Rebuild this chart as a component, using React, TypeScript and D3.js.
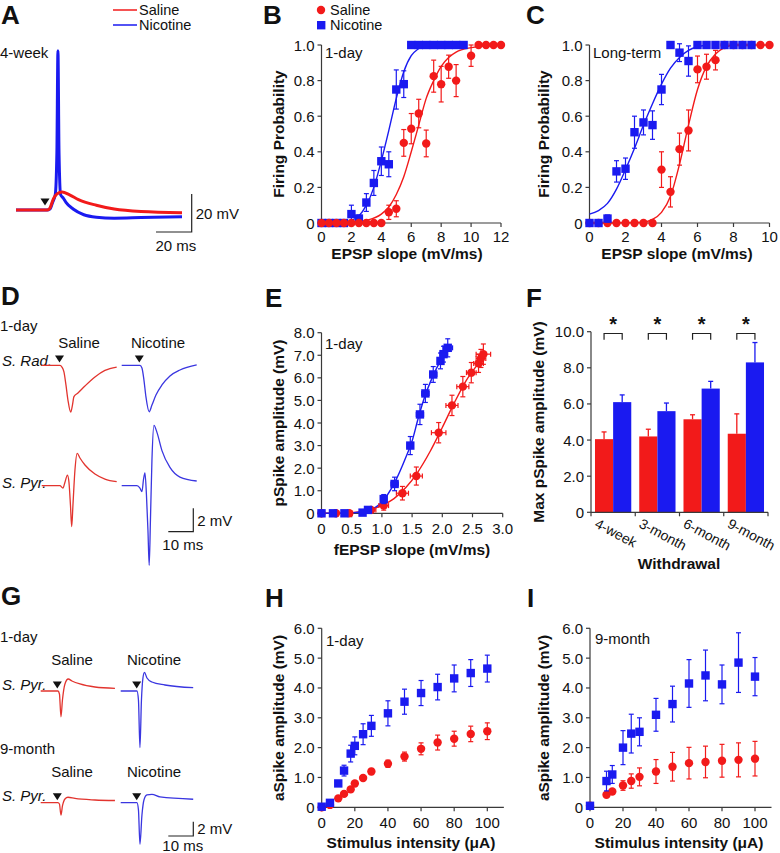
import * as d3 from "d3";

const FONT = "'Liberation Sans', Arial, Helvetica, sans-serif";
const RED = "#f21a1a";
const BLUE = "#1a1af0";
const TRACE_RED = "#e2342e";
const TRACE_BLUE = "#3a36e0";
const AXIS = "#3a3a3a";

type Pt = [number, number];
type Lin = d3.ScaleLinear<number, number>;

// ---- A: 4-week whole-cell traces [ms, mV]
const aSalineTrace: Pt[] = [
  [0, -65], [17.5, -65], [19, -64], [21, -59], [23, -56.5], [25.8, -55.5], [30, -57],
  [35, -59.5], [45, -62.5], [55, -64.5], [70, -65.8], [93, -66.4],
];
const aNicotineTrace: Pt[] = [
  [0, -65], [17.5, -65], [19, -64.5], [20.5, -61], [22, -57], [22.9, -35], [23.5, 18.8],
  [24.1, -35], [25, -57], [26.5, -58.7], [28, -61], [32, -64.5], [38, -67.5], [45, -68.8],
  [55, -69.3], [70, -69], [93, -68.5],
];

// ---- B: firing probability, 1-day  [slope, prob, sem]
const bSaline: number[][] = [
  [0, 0, 0], [0.5, 0, 0], [1, 0, 0], [1.5, 0, 0], [2, 0, 0], [2.5, 0, 0], [3, 0, 0], [3.5, 0, 0], [4, 0, 0],
  [4.5, 0.06, 0.04], [5, 0.08, 0.045], [5.5, 0.45, 0.075], [6, 0.53, 0.085], [6.5, 0.615, 0.08],
  [7, 0.447, 0.075], [7.5, 0.825, 0.09], [8, 0.78, 0.1], [8.5, 0.878, 0.065], [9, 0.8, 0.09],
  [10, 0.94, 0.06], [10.5, 1, 0], [11, 1, 0], [11.5, 1, 0], [12, 1, 0],
];
const bNicotine: number[][] = [
  [0, 0, 0], [0.5, 0, 0], [1, 0, 0], [1.5, 0, 0], [2, 0.05, 0.05], [2.5, 0.025, 0.02],
  [3, 0.115, 0.05], [3.5, 0.225, 0.07], [4, 0.347, 0.08], [4.5, 0.33, 0.07], [5, 0.75, 0.11],
  [5.5, 0.78, 0.075], [6, 1, 0], [6.5, 1, 0], [7, 1, 0], [7.5, 1, 0], [8, 1, 0], [8.5, 1, 0],
  [9, 1, 0], [9.5, 1, 0],
];
const bSalineFit: Pt[] = [
  [0, 0], [2, 0.003], [3, 0.015], [4, 0.05], [4.5, 0.09], [5, 0.16], [5.5, 0.26], [6, 0.4],
  [6.5, 0.55], [7, 0.7], [7.5, 0.8], [8, 0.88], [8.5, 0.93], [9, 0.96], [10, 0.985], [11, 0.995], [12, 1],
];
const bNicotineFit: Pt[] = [
  [0, 0], [1.5, 0.005], [2, 0.015], [2.5, 0.04], [3, 0.1], [3.5, 0.2], [4, 0.35], [4.5, 0.52],
  [5, 0.7], [5.5, 0.85], [6, 0.94], [6.5, 0.98], [6.9, 1],
];

// ---- C: firing probability, long-term
const cSaline: number[][] = [
  [0, 0, 0], [0.5, 0, 0], [1, 0, 0], [1.5, 0, 0], [2, 0, 0], [2.5, 0, 0], [3, 0, 0], [3.5, 0, 0],
  [4, 0.3, 0.1], [4.5, 0.175, 0.085], [5, 0.415, 0.09], [5.5, 0.52, 0.115], [6, 0.863, 0.075],
  [6.5, 0.878, 0.07], [7, 0.915, 0.055], [7.5, 1, 0], [8, 1, 0], [8.5, 1, 0], [9, 1, 0], [9.5, 1, 0], [10, 1, 0],
];
const cNicotine: number[][] = [
  [0, 0, 0], [0.5, 0, 0], [1, 0.025, 0.02], [1.5, 0.29, 0.06], [2, 0.305, 0.06], [2.5, 0.51, 0.09],
  [3, 0.565, 0.07], [3.5, 0.55, 0.08], [4, 0.75, 0.085], [4.5, 1, 0], [5, 0.957, 0.05],
  [5.5, 0.91, 0.085], [6, 1, 0], [6.5, 1, 0], [7, 1, 0], [7.5, 1, 0], [8, 1, 0], [8.5, 1, 0], [9, 1, 0],
];
const cSalineFit: Pt[] = [
  [0, 0], [3, 0.005], [3.5, 0.02], [4, 0.06], [4.5, 0.15], [5, 0.33], [5.5, 0.55], [6, 0.75],
  [6.5, 0.88], [7, 0.95], [7.5, 0.985], [8, 1], [10, 1],
];
const cNicotineFit: Pt[] = [
  [0, 0.05], [0.5, 0.07], [1, 0.11], [1.5, 0.19], [2, 0.3], [2.5, 0.42], [3, 0.55], [3.5, 0.67],
  [4, 0.78], [4.5, 0.87], [5, 0.93], [5.5, 0.97], [6, 0.99], [6.5, 1],
];

// ---- D: 1-day field traces [ms, mV]
const dSalineRad: Pt[] = [
  [0, 0], [7.3, 0], [8.1, -0.15], [8.9, -0.57], [9.7, -1.68], [10.5, -2.97], [11.6, -4.0],
  [12.3, -3.4], [12.9, -2.68], [14.5, -2.37], [17.3, -1.77], [21.3, -1.0], [25.3, -0.44], [30, -0.15],
];
const dNicotineRad: Pt[] = [
  [0, 0], [7.3, 0], [8.1, -0.23], [8.9, -1.26], [9.7, -2.7], [11, -3.97], [12.1, -3.4],
  [13.7, -2.54], [16.1, -1.68], [19.3, -0.91], [23.3, -0.4], [30, 0.03],
];
const dSalinePyr: Pt[] = [
  [0, 0], [7.3, 0], [8.5, -0.2], [9.3, 0.3], [10.3, 0.9], [10.9, 0.3], [11.5, -1.65], [12, -3.5],
  [12.5, -1.65], [13.3, 1.34], [14.2, 2.77], [15.3, 2.37], [17.3, 1.77], [21.3, 1.0], [25.3, 0.57], [30, 0.34],
];
const dNicotinePyr: Pt[] = [
  [0, 0], [6.1, 0], [7.3, -0.2], [8.1, -0.5], [8.7, 0.49], [9.3, 1.1], [9.9, -0.8], [10.5, -3.8],
  [11, -6.8], [11.5, -2.9], [12.1, 2.2], [12.9, 5.16], [14.1, 4.56], [16.1, 3.0], [19.3, 1.56],
  [23.3, 0.74], [30, 0.4],
];

// ---- E: input-output, 1-day  [fEPSP, pSpike, xSem, ySem]
const eSaline: number[][] = [
  [0, 0, 0.02, 0.03], [0.24, 0, 0.04, 0.03], [0.46, 0, 0.05, 0.03], [0.82, 0.15, 0.08, 0.1],
  [1.03, 0.34, 0.08, 0.2], [1.34, 0.89, 0.1, 0.3], [1.57, 1.65, 0.1, 0.4], [1.94, 3.57, 0.12, 0.45],
  [2.16, 4.78, 0.1, 0.45], [2.34, 5.61, 0.1, 0.45], [2.48, 6.23, 0.08, 0.45], [2.6, 6.64, 0.08, 0.4],
  [2.64, 6.86, 0.08, 0.4], [2.68, 7.05, 0.12, 0.45],
];
const eNicotine: number[][] = [
  [0, 0, 0.02, 0.03], [0.19, 0, 0.03, 0.03], [0.38, 0, 0.03, 0.03], [0.68, 0.03, 0.04, 0.05],
  [0.77, 0.15, 0.04, 0.06], [1.03, 0.63, 0.05, 0.2], [1.21, 1.3, 0.06, 0.3], [1.47, 3.0, 0.05, 0.4],
  [1.63, 4.38, 0.06, 0.45], [1.72, 5.31, 0.06, 0.4], [1.85, 6.15, 0.06, 0.35], [1.97, 6.75, 0.05, 0.35],
  [2.02, 7.05, 0.06, 0.35], [2.09, 7.33, 0.08, 0.4],
];
const eSalineFit: Pt[] = [
  [0, 0], [0.5, 0.03], [0.8, 0.15], [1.0, 0.35], [1.2, 0.65], [1.4, 1.15], [1.6, 1.85], [1.8, 2.75],
  [2.0, 3.8], [2.2, 4.9], [2.4, 5.9], [2.6, 6.65], [2.7, 7.0],
];
const eNicotineFit: Pt[] = [
  [0, 0], [0.5, 0.02], [0.8, 0.15], [1.0, 0.5], [1.2, 1.3], [1.4, 2.5], [1.5, 3.2], [1.6, 4.2],
  [1.7, 5.1], [1.8, 5.8], [1.9, 6.4], [2.0, 6.9], [2.1, 7.3],
];

// ---- F: max pSpike by withdrawal period
const withdrawal = ["4-week", "3-month", "6-month", "9-month"];
const fSaline = [4.05, 4.2, 5.15, 4.35];
const fSalineErr = [0.4, 0.4, 0.25, 1.1];
const fNicotine = [6.1, 5.6, 6.85, 8.3];
const fNicotineErr = [0.4, 0.45, 0.4, 1.1];

// ---- G: antidromic traces [ms, mV]
const gSalineDay: Pt[] = [
  [0, 0], [6.9, 0], [7.5, -0.42], [8.1, -3.6], [8.7, -1.26], [9.7, 0.98], [11, 1.68], [12.5, 1.4],
  [15.7, 0.98], [21.7, 0.56], [29.7, 0.38],
];
const gNicotineDay: Pt[] = [
  [0, 0], [6.5, 0], [7.1, -1.26], [7.7, -7.9], [8.3, -1.26], [8.9, 1.82], [9.5, 2.6], [10.5, 1.82],
  [12.5, 1.26], [17.7, 0.84], [29, 0.46],
];
const gSalineMonth: Pt[] = [
  [0, 0], [6.9, 0], [7.5, -0.18], [8.1, -1.72], [8.7, -0.46], [9.7, 0.52], [10.9, 0.76],
  [13.7, 0.59], [21.7, 0.38], [29.7, 0.31],
];
const gNicotineMonth: Pt[] = [
  [0, 0], [6.5, 0], [7.1, -1.0], [7.7, -5.8], [8.5, -1.72], [9.3, 0.38], [10.5, 1.08], [12.5, 1.17],
  [15.7, 0.8], [29, 0.48],
];

// ---- H / I: aSpike vs stimulus intensity
const hIntensity = [0, 5, 10, 13.5, 17.5, 20, 25, 30, 40, 50, 60, 70, 80, 90, 100];
const hNicotine = [0.02, 0.15, 0.8, 1.23, 1.8, 2.06, 2.45, 2.73, 3.15, 3.54, 3.83, 4.03, 4.32, 4.5, 4.65];
const hNicotineErr = [0, 0.05, 0.07, 0.18, 0.28, 0.3, 0.35, 0.35, 0.42, 0.42, 0.42, 0.43, 0.45, 0.45, 0.45];
const hSaline = [0, 0.08, 0.3, 0.45, 0.6, 0.8, 0.98, 1.2, 1.46, 1.7, 1.96, 2.17, 2.3, 2.46, 2.55];
const hSalineErr = [0, 0, 0, 0, 0, 0.05, 0.08, 0.1, 0.12, 0.15, 0.2, 0.25, 0.25, 0.26, 0.28];

const iIntensity = [0, 10, 13.5, 20, 25, 30, 40, 50, 60, 70, 80, 90, 100];
const iNicotine = [0.05, 0.88, 1.1, 2.0, 2.47, 2.53, 3.1, 3.46, 4.15, 4.42, 4.12, 4.85, 4.38];
const iNicotineErr = [0, 0.33, 0.3, 0.57, 0.65, 0.47, 0.55, 0.6, 0.8, 0.85, 0.65, 1.0, 0.64];
const iSaline = [0.05, 0.42, 0.53, 0.73, 0.88, 1.02, 1.2, 1.36, 1.48, 1.52, 1.56, 1.59, 1.63];
const iSalineErr = [0, 0.04, 0.05, 0.16, 0.24, 0.3, 0.4, 0.48, 0.53, 0.53, 0.55, 0.57, 0.58];

// tick labels
const probTicks = [0, 0.2, 0.4, 0.6, 0.8, 1.0];
const bXTicks = [0, 2, 4, 6, 8, 10, 12];
const cXTicks = [0, 2, 4, 6, 8, 10];
const eXTicks = [0, 0.5, 1, 1.5, 2, 2.5, 3];
const eYTicks = [0, 1, 2, 3, 4, 5, 6, 7, 8];
const fYTicks = [0, 2, 4, 6, 8, 10];
const hYTicks = [0, 1, 2, 3, 4, 5, 6];
const hXTicks = [0, 20, 40, 60, 80, 100];

const oneDec = (v: number) => (v === 0 ? "0" : v.toFixed(1));
const plain = (v: number) => String(v);

function LeftAxis({ y, x, ticks, fmt }: { y: Lin; x: number; ticks: number[]; fmt: (v: number) => string }) {
  const [d0, d1] = y.domain();
  return (
    <g>
      <line x1={x} x2={x} y1={y(d0)} y2={y(d1)} stroke={AXIS} strokeWidth={1.2} />
      {ticks.map((t) => (
        <g key={t}>
          <line x1={x - 4} x2={x} y1={y(t)} y2={y(t)} stroke={AXIS} strokeWidth={1.2} />
          <text x={x - 7} y={y(t)} textAnchor="end" dominantBaseline="central" fontSize={15}>
            {fmt(t)}
          </text>
        </g>
      ))}
    </g>
  );
}

function BottomAxis({ x, y, ticks, fmt, end, gap = 14 }: { x: Lin; y: number; ticks: number[]; fmt: (v: number) => string; end: number; gap?: number }) {
  return (
    <g>
      <line x1={x(0)} x2={x(end)} y1={y} y2={y} stroke={AXIS} strokeWidth={1.2} />
      {ticks.map((t) => (
        <g key={t}>
          <line x1={x(t)} x2={x(t)} y1={y} y2={y + 4} stroke={AXIS} strokeWidth={1.2} />
          <text x={x(t)} y={y + gap} textAnchor="middle" dominantBaseline="central" fontSize={15}>
            {fmt(t)}
          </text>
        </g>
      ))}
    </g>
  );
}

function Marker({ cx, cy, kind, color }: { cx: number; cy: number; kind: "circle" | "square"; color: string }) {
  return kind === "circle" ? (
    <circle cx={cx} cy={cy} r={4.2} fill={color} />
  ) : (
    <rect x={cx - 4.2} y={cy - 4.2} width={8.4} height={8.4} fill={color} />
  );
}

function Points({ data, x, y, kind, color }: { data: number[][]; x: Lin; y: Lin; kind: "circle" | "square"; color: string }) {
  return (
    <g>
      {data.map((d, i) => {
        const [vx, vy, ey] = d;
        const ex = d.length > 3 ? d[2] : 0;
        const yErr = d.length > 3 ? d[3] : ey;
        const cx = x(vx);
        const cy = y(vy);
        return (
          <g key={i}>
            {yErr > 0 && (
              <g stroke={color} strokeWidth={1.2}>
                <line x1={cx} x2={cx} y1={y(vy - yErr)} y2={y(vy + yErr)} />
                <line x1={cx - 2.5} x2={cx + 2.5} y1={y(vy + yErr)} y2={y(vy + yErr)} />
                <line x1={cx - 2.5} x2={cx + 2.5} y1={y(vy - yErr)} y2={y(vy - yErr)} />
              </g>
            )}
            {ex > 0 && (
              <g stroke={color} strokeWidth={1.2}>
                <line x1={x(vx - ex)} x2={x(vx + ex)} y1={cy} y2={cy} />
                <line x1={x(vx - ex)} x2={x(vx - ex)} y1={cy - 2.5} y2={cy + 2.5} />
                <line x1={x(vx + ex)} x2={x(vx + ex)} y1={cy - 2.5} y2={cy + 2.5} />
              </g>
            )}
            <Marker cx={cx} cy={cy} kind={kind} color={color} />
          </g>
        );
      })}
    </g>
  );
}

function FitLine({ data, x, y, color }: { data: Pt[]; x: Lin; y: Lin; color: string }) {
  const line = d3
    .line<Pt>()
    .x((d) => x(d[0]))
    .y((d) => y(d[1]))
    .curve(d3.curveMonotoneX);
  return <path d={line(data) ?? ""} fill="none" stroke={color} strokeWidth={1.4} />;
}

function Trace({ data, x0, y0, msPx, mvPx, color, width = 1.3 }: { data: Pt[]; x0: number; y0: number; msPx: number; mvPx: number; color: string; width?: number }) {
  const x = d3.scaleLinear().domain([0, 10]).range([x0, x0 + 10 * msPx]);
  const y = d3.scaleLinear().domain([0, 1]).range([y0, y0 - mvPx]);
  const line = d3
    .line<Pt>()
    .x((d) => x(d[0]))
    .y((d) => y(d[1]))
    .curve(d3.curveMonotoneX);
  return <path d={line(data) ?? ""} fill="none" stroke={color} strokeWidth={width} strokeLinejoin="round" />;
}

function Arrow({ x, y }: { x: number; y: number }) {
  return <path d={`M${x - 4.5},${y - 3.5} L${x + 4.5},${y - 3.5} L${x},${y + 3.5} Z`} fill="#111" />;
}

function ScaleBar({ x, y, wPx, hPx, xLabel, yLabel, gap = 13 }: { x: number; y: number; wPx: number; hPx: number; xLabel: string; yLabel: string; gap?: number }) {
  return (
    <g>
      <path d={`M${x - wPx},${y} L${x},${y} L${x},${y - hPx}`} fill="none" stroke="#222" strokeWidth={1.2} />
      <text x={x + 4} y={y - hPx / 2} dominantBaseline="central" fontSize={15}>{yLabel}</text>
      <text x={x - wPx / 2 + 2} y={y + gap} textAnchor="middle" dominantBaseline="central" fontSize={15}>{xLabel}</text>
    </g>
  );
}

function PanelLetter({ x, y, t }: { x: number; y: number; t: string }) {
  return (
    <text x={x} y={y} fontSize={26} fontWeight="bold" dominantBaseline="central">{t}</text>
  );
}

function YTitle({ x, y, t }: { x: number; y: number; t: string }) {
  return (
    <text transform={`translate(${x},${y}) rotate(-90)`} textAnchor="middle" dominantBaseline="central" fontSize={15.5} fontWeight="bold">
      {t}
    </text>
  );
}

function XTitle({ x, y, t }: { x: number; y: number; t: string }) {
  return (
    <text x={x} y={y} textAnchor="middle" dominantBaseline="central" fontSize={15.5} fontWeight="bold">{t}</text>
  );
}

export default function App() {
  // A
  const xA = d3.scaleLinear().domain([0, 93]).range([16, 182]);
  const yA = d3.scaleLinear().domain([-65, -45]).range([210, 172]);
  const aLine = d3.line<Pt>().x((d) => xA(d[0])).y((d) => yA(d[1])).curve(d3.curveMonotoneX);

  // B, C
  const xB = d3.scaleLinear().domain([0, 12]).range([321.5, 501]);
  const yB = d3.scaleLinear().domain([0, 1]).range([223, 45]);
  const xC = d3.scaleLinear().domain([0, 10]).range([589.5, 769.5]);
  const yC = d3.scaleLinear().domain([0, 1]).range([223, 45]);

  // E
  const xE = d3.scaleLinear().domain([0, 3]).range([321.5, 502.7]);
  const yE = d3.scaleLinear().domain([0, 8]).range([513.3, 332.7]);

  // F
  const yF = d3.scaleLinear().domain([0, 10]).range([512.3, 331.7]);
  const xF = d3.scaleBand<string>().domain(withdrawal).range([591, 768]).padding(0);
  const xF1 = d3.scaleBand<string>().domain(["Saline", "Nicotine"]).range([0, xF.bandwidth()]).paddingInner(0).paddingOuter(0.22);

  // H, I
  const xH = d3.scaleLinear().domain([0, 100]).range([321.7, 487.3]);
  const yH = d3.scaleLinear().domain([0, 6]).range([807.3, 628.3]);
  const xI = d3.scaleLinear().domain([0, 100]).range([590, 755]);
  const yI = d3.scaleLinear().domain([0, 6]).range([807.3, 628.3]);

  const hRed = hIntensity.map((v, i) => [v, hSaline[i], hSalineErr[i]]);
  const hBlue = hIntensity.map((v, i) => [v, hNicotine[i], hNicotineErr[i]]);
  const iRed = iIntensity.map((v, i) => [v, iSaline[i], iSalineErr[i]]);
  const iBlue = iIntensity.map((v, i) => [v, iNicotine[i], iNicotineErr[i]]);

  return (
    <svg
      width={780}
      height={853}
      viewBox="0 0 780 853"
      style={{ position: "absolute", left: 0, top: 0, background: "#fff", fontFamily: FONT }}
      fill="#111"
    >
      {/* ---------- A ---------- */}
      <PanelLetter x={1} y={15} t="A" />
      <line x1={113} x2={137} y1={10} y2={10} stroke={RED} strokeWidth={1.5} />
      <text x={139} y={10} dominantBaseline="central" fontSize={14.5}>Saline</text>
      <line x1={113} x2={137} y1={25} y2={25} stroke={BLUE} strokeWidth={1.5} />
      <text x={139} y={25} dominantBaseline="central" fontSize={14.5}>Nicotine</text>
      <text x={0} y={52} dominantBaseline="central" fontSize={15}>4-week</text>
      <path d={aLine(aNicotineTrace) ?? ""} fill="none" stroke={BLUE} strokeWidth={3} />
      <path d={aLine(aSalineTrace) ?? ""} fill="none" stroke={RED} strokeWidth={3} />
      <Arrow x={45} y={202} />
      <ScaleBar x={191.7} y={232} wPx={xA(20) - xA(0)} hPx={yA(-65) - yA(-45)} xLabel="20 ms" yLabel="20 mV" />

      {/* ---------- B ---------- */}
      <PanelLetter x={263} y={15} t="B" />
      <circle cx={321} cy={10} r={4.2} fill={RED} />
      <text x={330} y={10} dominantBaseline="central" fontSize={14.5}>Saline</text>
      <rect x={317} y={21} width={8.4} height={8.4} fill={BLUE} />
      <text x={330} y={25} dominantBaseline="central" fontSize={14.5}>Nicotine</text>
      <LeftAxis y={yB} x={xB(0)} ticks={probTicks} fmt={oneDec} />
      <BottomAxis x={xB} y={yB(0)} ticks={bXTicks} fmt={plain} end={12} gap={13} />
      <FitLine data={bSalineFit} x={xB} y={yB} color={RED} />
      <FitLine data={bNicotineFit} x={xB} y={yB} color={BLUE} />
      <Points data={bNicotine} x={xB} y={yB} kind="square" color={BLUE} />
      <Points data={bSaline} x={xB} y={yB} kind="circle" color={RED} />
      <text x={325} y={52} dominantBaseline="central" fontSize={15}>1-day</text>
      <YTitle x={278} y={134} t="Firing Probability" />
      <XTitle x={407} y={253} t="EPSP slope (mV/ms)" />

      {/* ---------- C ---------- */}
      <PanelLetter x={526} y={15} t="C" />
      <LeftAxis y={yC} x={xC(0)} ticks={probTicks} fmt={oneDec} />
      <BottomAxis x={xC} y={yC(0)} ticks={cXTicks} fmt={plain} end={10} gap={13} />
      <FitLine data={cSalineFit} x={xC} y={yC} color={RED} />
      <FitLine data={cNicotineFit} x={xC} y={yC} color={BLUE} />
      <Points data={cSaline} x={xC} y={yC} kind="circle" color={RED} />
      <Points data={cNicotine} x={xC} y={yC} kind="square" color={BLUE} />
      <text x={593} y={52} dominantBaseline="central" fontSize={15}>Long-term</text>
      <YTitle x={543} y={134} t="Firing Probability" />
      <XTitle x={677} y={253} t="EPSP slope (mV/ms)" />

      {/* ---------- D ---------- */}
      <PanelLetter x={1} y={296} t="D" />
      <text x={0} y={325} dominantBaseline="central" fontSize={15}>1-day</text>
      <text x={79} y={342} textAnchor="middle" dominantBaseline="central" fontSize={15}>Saline</text>
      <text x={158} y={342} textAnchor="middle" dominantBaseline="central" fontSize={15}>Nicotine</text>
      <text x={2} y={360} dominantBaseline="central" fontSize={15} fontStyle="italic">S. Rad.</text>
      <text x={2} y={482} dominantBaseline="central" fontSize={15} fontStyle="italic">S. Pyr.</text>
      <Trace data={dSalineRad} x0={41.7} y0={365.3} msPx={2.5} mvPx={11.7} color={TRACE_RED} />
      <Trace data={dNicotineRad} x0={121.7} y0={365.3} msPx={2.5} mvPx={11.7} color={TRACE_BLUE} />
      <Trace data={dSalinePyr} x0={41.7} y0={485.7} msPx={2.5} mvPx={11.7} color={TRACE_RED} />
      <Trace data={dNicotinePyr} x0={121.7} y0={485.7} msPx={2.5} mvPx={11.7} color={TRACE_BLUE} />
      <Arrow x={59.5} y={359} />
      <Arrow x={139.3} y={359} />
      <ScaleBar x={193.3} y={531.7} wPx={25} hPx={23.4} xLabel="10 ms" yLabel="2 mV" />

      {/* ---------- E ---------- */}
      <PanelLetter x={265} y={298} t="E" />
      <LeftAxis y={yE} x={xE(0)} ticks={eYTicks} fmt={oneDec} />
      <BottomAxis x={xE} y={yE(0)} ticks={eXTicks} fmt={oneDec} end={3} gap={15} />
      <FitLine data={eSalineFit} x={xE} y={yE} color={RED} />
      <FitLine data={eNicotineFit} x={xE} y={yE} color={BLUE} />
      <Points data={eSaline} x={xE} y={yE} kind="circle" color={RED} />
      <Points data={eNicotine} x={xE} y={yE} kind="square" color={BLUE} />
      <text x={325} y={343} dominantBaseline="central" fontSize={15}>1-day</text>
      <YTitle x={278} y={423} t="pSpike amplitude (mV)" />
      <XTitle x={412} y={549} t="fEPSP slope (mV/ms)" />

      {/* ---------- F ---------- */}
      <PanelLetter x={526} y={298} t="F" />
      {withdrawal.map((w, i) => {
        const gx = xF(w) ?? 0;
        const rx = gx + (xF1("Saline") ?? 0);
        const bx = gx + (xF1("Nicotine") ?? 0);
        const bw = xF1.bandwidth();
        const rc = rx + bw / 2;
        const bc = bx + bw / 2;
        return (
          <g key={w}>
            <line x1={rc} x2={rc} y1={yF(fSaline[i])} y2={yF(fSaline[i] + fSalineErr[i])} stroke={RED} strokeWidth={1.3} />
            <line x1={rc - 2.5} x2={rc + 2.5} y1={yF(fSaline[i] + fSalineErr[i])} y2={yF(fSaline[i] + fSalineErr[i])} stroke={RED} strokeWidth={1.3} />
            <line x1={bc} x2={bc} y1={yF(fNicotine[i])} y2={yF(fNicotine[i] + fNicotineErr[i])} stroke={BLUE} strokeWidth={1.3} />
            <line x1={bc - 2.5} x2={bc + 2.5} y1={yF(fNicotine[i] + fNicotineErr[i])} y2={yF(fNicotine[i] + fNicotineErr[i])} stroke={BLUE} strokeWidth={1.3} />
            <rect x={rx} y={yF(fSaline[i])} width={bw} height={yF(0) - yF(fSaline[i])} fill={RED} />
            <rect x={bx} y={yF(fNicotine[i])} width={bw} height={yF(0) - yF(fNicotine[i])} fill={BLUE} />
            <path d={`M${rc},${yF(9.55)} L${rc},${yF(9.9)} L${bc},${yF(9.9)} L${bc},${yF(9.55)}`} fill="none" stroke="#222" strokeWidth={1.2} />
            <text x={(rc + bc) / 2} y={yF(10.45)} textAnchor="middle" dominantBaseline="central" fontSize={20} fontWeight="bold">*</text>
            <text transform={`translate(${gx + 5},${yF(0) + 10}) rotate(28)`} dominantBaseline="central" fontSize={14}>{w}</text>
          </g>
        );
      })}
      <LeftAxis y={yF} x={591} ticks={fYTicks} fmt={oneDec} />
      <line x1={591} x2={768} y1={yF(0)} y2={yF(0)} stroke={AXIS} strokeWidth={1.2} />
      {[...withdrawal.map((w) => xF(w) ?? 0), 768].map((gx, i) => (
        <line key={i} x1={gx} x2={gx} y1={yF(0)} y2={yF(0) + 4} stroke={AXIS} strokeWidth={1.2} />
      ))}
      <YTitle x={538} y={422} t="Max pSpike amplitude (mV)" />
      <XTitle x={679} y={563} t="Withdrawal" />

      {/* ---------- G ---------- */}
      <PanelLetter x={1} y={596} t="G" />
      <text x={0} y={636} dominantBaseline="central" fontSize={15}>1-day</text>
      <text x={72} y={659} textAnchor="middle" dominantBaseline="central" fontSize={15}>Saline</text>
      <text x={154} y={659} textAnchor="middle" dominantBaseline="central" fontSize={15}>Nicotine</text>
      <text x={2} y={684} dominantBaseline="central" fontSize={15} fontStyle="italic">S. Pyr.</text>
      <Trace data={gSalineDay} x0={40.7} y0={691} msPx={2.5} mvPx={7.15} color={TRACE_RED} />
      <Trace data={gNicotineDay} x0={120.7} y0={691} msPx={2.5} mvPx={7.15} color={TRACE_BLUE} />
      <Arrow x={57.3} y={685} />
      <Arrow x={136.7} y={685} />
      <text x={0} y={748} dominantBaseline="central" fontSize={15}>9-month</text>
      <text x={72} y={771} textAnchor="middle" dominantBaseline="central" fontSize={15}>Saline</text>
      <text x={154} y={771} textAnchor="middle" dominantBaseline="central" fontSize={15}>Nicotine</text>
      <text x={2} y={795} dominantBaseline="central" fontSize={15} fontStyle="italic">S. Pyr.</text>
      <Trace data={gSalineMonth} x0={40.7} y0={802.7} msPx={2.5} mvPx={7.15} color={TRACE_RED} />
      <Trace data={gNicotineMonth} x0={120.7} y0={802.7} msPx={2.5} mvPx={7.15} color={TRACE_BLUE} />
      <Arrow x={57.3} y={796.7} />
      <Arrow x={136.7} y={796.7} />
      <ScaleBar x={193.3} y={836} wPx={25} hPx={14.3} xLabel="10 ms" yLabel="2 mV" gap={9.5} />

      {/* ---------- H ---------- */}
      <PanelLetter x={265} y={598} t="H" />
      <LeftAxis y={yH} x={xH(0)} ticks={hYTicks} fmt={oneDec} />
      <BottomAxis x={xH} y={yH(0)} ticks={hXTicks} fmt={plain} end={110} gap={15} />
      <Points data={hRed} x={xH} y={yH} kind="circle" color={RED} />
      <Points data={hBlue} x={xH} y={yH} kind="square" color={BLUE} />
      <text x={326} y={640} dominantBaseline="central" fontSize={15}>1-day</text>
      <YTitle x={278} y={718} t="aSpike amplitude (mV)" />
      <XTitle x={411} y={842} t="Stimulus intensity (μA)" />

      {/* ---------- I ---------- */}
      <PanelLetter x={527} y={598} t="I" />
      <LeftAxis y={yI} x={xI(0)} ticks={hYTicks} fmt={oneDec} />
      <BottomAxis x={xI} y={yI(0)} ticks={hXTicks} fmt={plain} end={110} gap={15} />
      <Points data={iRed} x={xI} y={yI} kind="circle" color={RED} />
      <Points data={iBlue} x={xI} y={yI} kind="square" color={BLUE} />
      <text x={595} y={638} dominantBaseline="central" fontSize={15}>9-month</text>
      <YTitle x={543} y={718} t="aSpike amplitude (mV)" />
      <XTitle x={679} y={842} t="Stimulus intensity (μA)" />
    </svg>
  );
}
